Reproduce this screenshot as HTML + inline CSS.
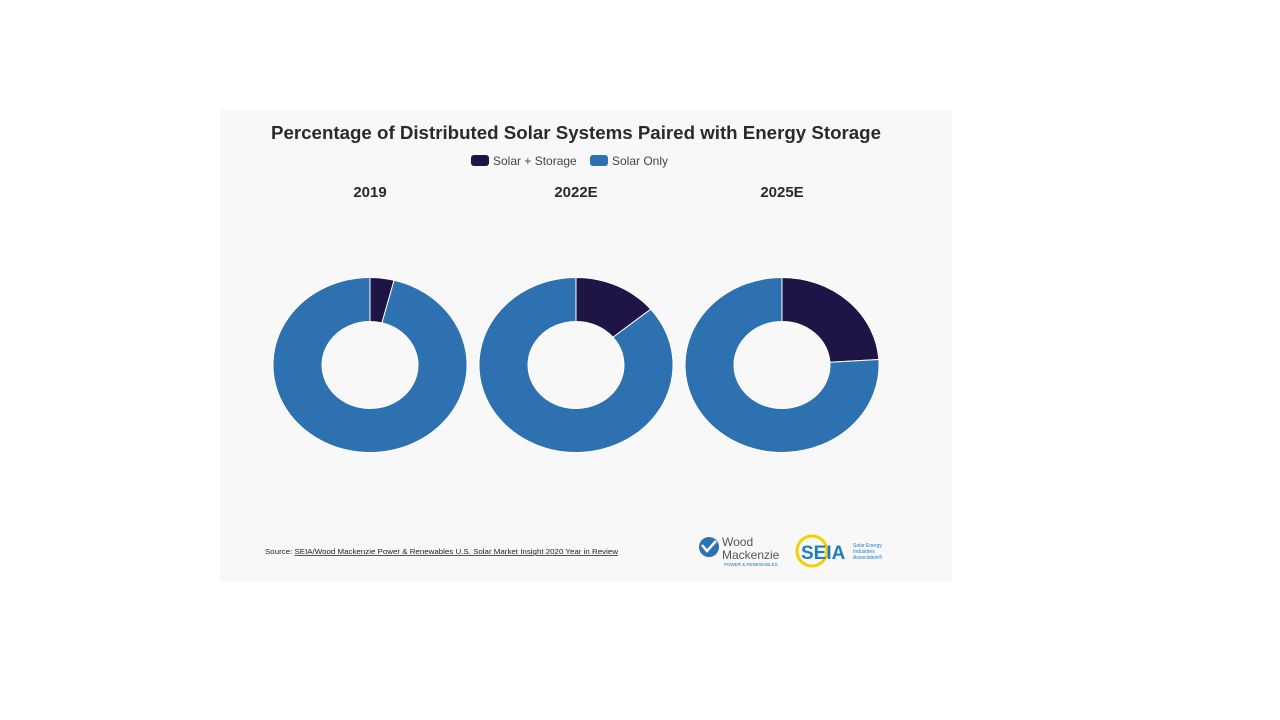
<!DOCTYPE html>
<html><head><meta charset="utf-8"><style>
body{margin:0;width:1280px;height:720px;background:#fff;overflow:hidden;font-family:"Liberation Sans",sans-serif}
#panel{position:absolute;left:220px;top:110px;width:732px;height:472px;background:#f8f8f8}
</style></head><body>
<div id="panel"></div>
<svg id="chart" width="1280" height="720" style="position:absolute;left:0;top:0">
<text x="576" y="139" text-anchor="middle" font-size="18" font-weight="bold" fill="#2a2a2a" textLength="610" lengthAdjust="spacingAndGlyphs">Percentage of Distributed Solar Systems Paired with Energy Storage</text>
<g>
<rect x="471" y="155" width="18" height="11" rx="3" fill="#1e1446"/>
<text x="493" y="165" font-size="12" fill="#444">Solar + Storage</text>
<rect x="590" y="155" width="18" height="11" rx="3" fill="#2e71b0"/>
<text x="612" y="165" font-size="12" fill="#444">Solar Only</text>
</g>
<text x="265" y="554" font-size="7.5" fill="#222" textLength="353" lengthAdjust="spacingAndGlyphs">Source: <tspan text-decoration="underline">SEIA/Wood Mackenzie Power &amp; Renewables U.S. Solar Market Insight 2020 Year in Review</tspan></text>
<g>
<circle cx="709" cy="547" r="10" fill="#2e71b0"/>
<path d="M702 545 l5 6 l9 -10" stroke="#fff" stroke-width="2.5" fill="none"/>
<text x="722" y="546" font-size="12" fill="#555">Wood</text>
<text x="722" y="559" font-size="12" fill="#555">Mackenzie</text>
<text x="724" y="566" font-size="4.5" fill="#2e71b0">POWER &amp; RENEWABLES</text>
</g>
<g>
<circle cx="812" cy="551" r="15" fill="none" stroke="#f5d000" stroke-width="3"/>
<text x="801" y="559" font-size="19" font-weight="bold" fill="#1c7cc8">SEIA</text>
<text x="853" y="547" font-size="5" fill="#1c7cc8">Solar Energy</text>
<text x="853" y="553" font-size="5" fill="#1c7cc8">Industries</text>
<text x="853" y="559" font-size="5" fill="#1c7cc8">Association®</text>
</g>
</svg>
<script>
const years = ["2019","2022E","2025E"];
const storageShare = [4, 14, 24];
const soloShare = [96, 86, 76];
const svg = document.getElementById('chart');
const NS = 'http://www.w3.org/2000/svg';
const centersX = [370, 576, 782], cy = 365, rx = 97, ry = 87.5, irx = 48, iry = 43.5;
function pt(cx, a, rX, rY){ return [cx + rX*Math.sin(a), cy - rY*Math.cos(a)]; }
function arc(cx, a0, a1){
  const large = (a1 - a0) > Math.PI ? 1 : 0;
  const p0 = pt(cx,a0,rx,ry), p1 = pt(cx,a1,rx,ry), q1 = pt(cx,a1,irx,iry), q0 = pt(cx,a0,irx,iry);
  return `M${p0} A${rx} ${ry} 0 ${large} 1 ${p1} L${q1} A${irx} ${iry} 0 ${large} 0 ${q0} Z`;
}
years.forEach((y, i) => {
  const cx = centersX[i];
  const t = document.createElementNS(NS,'text');
  t.setAttribute('x', cx); t.setAttribute('y', 197);
  t.setAttribute('text-anchor','middle'); t.setAttribute('font-size','15');
  t.setAttribute('font-weight','bold'); t.setAttribute('fill','#2a2a2a');
  t.textContent = y;
  
  
  svg.appendChild(t);
  const total = storageShare[i] + soloShare[i];
  const a1 = storageShare[i] / total * 2 * Math.PI;
  const s = document.createElementNS(NS,'path');
  s.setAttribute('d', arc(cx, 0, a1));
  s.setAttribute('fill', '#1e1446'); s.setAttribute('stroke', '#fff'); s.setAttribute('stroke-width', '1');
  
  
  svg.appendChild(s);
  const o = document.createElementNS(NS,'path');
  o.setAttribute('d', arc(cx, a1, 2*Math.PI - 0.0001));
  o.setAttribute('fill', '#2e71b0'); o.setAttribute('stroke', '#fff'); o.setAttribute('stroke-width', '1');
  
  
  svg.appendChild(o);
});
</script>
</body></html>
